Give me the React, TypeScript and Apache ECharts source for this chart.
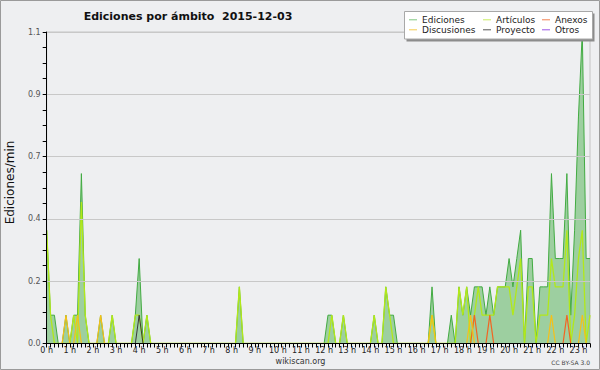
import React, { useEffect, useRef } from "react";
import * as echarts from "echarts";

const TITLE = "Ediciones por ámbito  2015-12-03";
const Y_NAME = "Ediciones/min";
const SITE = "wikiscan.org";
const LICENSE = "CC BY-SA 3.0";
const BIN_MINUTES = 10;
const X_MAX = 1410;
const Y_MAX = 1.1;
const Y_STEP = 0.22;
const HOUR_SUFFIX = " h";

// one row per hour, 10-minute bins (00:00 .. 23:30)
const ediciones = [
  0.4, 0.1, 0.1, 0, 0, 0.1,
  0, 0.1, 0.1, 0.6, 0.1, 0,
  0, 0, 0.1, 0, 0, 0.1,
  0, 0, 0, 0, 0, 0.1,
  0.3, 0, 0.1, 0, 0, 0,
  0, 0, 0, 0, 0, 0,
  0, 0, 0, 0, 0, 0,
  0, 0, 0, 0, 0, 0,
  0, 0, 0.2, 0, 0, 0,
  0, 0, 0, 0, 0, 0,
  0, 0, 0, 0, 0, 0,
  0, 0, 0, 0, 0, 0,
  0, 0.1, 0.1, 0, 0, 0.1,
  0, 0, 0, 0, 0, 0,
  0, 0.1, 0, 0, 0.2, 0.1,
  0.1, 0, 0, 0, 0, 0,
  0, 0, 0, 0, 0.2, 0,
  0, 0, 0, 0.1, 0, 0.2,
  0.1, 0.2, 0.1, 0.2, 0.2, 0.2,
  0.1, 0.2, 0.1, 0.2, 0.2, 0.2,
  0.3, 0.2, 0.3, 0.4, 0, 0.3,
  0.3, 0, 0.2, 0.2, 0.2, 0.6,
  0.3, 0.3, 0.3, 0.6, 0.1, 0.4,
  0.8, 1.1, 0.3, 0.3,
];

const articulos = [
  0.4, 0.1, 0, 0, 0, 0,
  0, 0.1, 0, 0.5, 0.1, 0,
  0, 0, 0, 0, 0, 0.1,
  0, 0, 0, 0, 0, 0.1,
  0.1, 0, 0.1, 0, 0, 0,
  0, 0, 0, 0, 0, 0,
  0, 0, 0, 0, 0, 0,
  0, 0, 0, 0, 0, 0,
  0, 0, 0.2, 0, 0, 0,
  0, 0, 0, 0, 0, 0,
  0, 0, 0, 0, 0, 0,
  0, 0, 0, 0, 0, 0,
  0, 0, 0.1, 0, 0, 0.1,
  0, 0, 0, 0, 0, 0,
  0, 0.1, 0, 0, 0.2, 0.1,
  0, 0, 0, 0, 0, 0,
  0, 0, 0, 0, 0.1, 0,
  0, 0, 0, 0, 0, 0.2,
  0.1, 0.2, 0, 0.1, 0.2, 0.1,
  0.1, 0.1, 0.1, 0.2, 0.2, 0.2,
  0.2, 0.1, 0.2, 0.3, 0, 0.2,
  0.2, 0, 0.1, 0.1, 0.1, 0.3,
  0.2, 0.2, 0.2, 0.4, 0, 0.1,
  0.3, 0.4, 0, 0.1,
];

const anexos = [
  0, 0, 0, 0, 0, 0,
  0, 0, 0, 0, 0, 0,
  0, 0, 0, 0, 0, 0,
  0, 0, 0, 0, 0, 0,
  0, 0, 0, 0, 0, 0,
  0, 0, 0, 0, 0, 0,
  0, 0, 0, 0, 0, 0,
  0, 0, 0, 0, 0, 0,
  0, 0, 0, 0, 0, 0,
  0, 0, 0, 0, 0, 0,
  0, 0, 0, 0, 0, 0,
  0, 0, 0, 0, 0, 0,
  0, 0, 0, 0, 0, 0,
  0, 0, 0, 0, 0, 0,
  0, 0, 0, 0, 0, 0,
  0, 0, 0, 0, 0, 0,
  0, 0, 0, 0, 0, 0,
  0, 0, 0, 0, 0, 0,
  0, 0, 0, 0.1, 0, 0,
  0, 0.1, 0, 0, 0, 0,
  0, 0, 0, 0, 0, 0,
  0, 0, 0, 0, 0, 0,
  0, 0, 0, 0.1, 0, 0,
  0, 0, 0, 0,
];

const discusiones = [
  0, 0, 0, 0, 0, 0.1,
  0, 0, 0.1, 0, 0, 0,
  0, 0, 0.1, 0, 0, 0,
  0, 0, 0, 0, 0, 0,
  0, 0, 0, 0, 0, 0,
  0, 0, 0, 0, 0, 0,
  0, 0, 0, 0, 0, 0,
  0, 0, 0, 0, 0, 0,
  0, 0, 0, 0, 0, 0,
  0, 0, 0, 0, 0, 0,
  0, 0, 0, 0, 0, 0,
  0, 0, 0, 0, 0, 0,
  0, 0, 0, 0, 0, 0,
  0, 0, 0, 0, 0, 0,
  0, 0, 0, 0, 0, 0,
  0, 0, 0, 0, 0, 0,
  0, 0, 0, 0, 0.1, 0,
  0, 0, 0, 0, 0, 0,
  0, 0, 0.1, 0, 0, 0,
  0, 0, 0, 0, 0, 0,
  0, 0, 0, 0, 0, 0,
  0, 0, 0, 0, 0, 0.1,
  0, 0, 0, 0, 0, 0,
  0, 0.1, 0, 0,
];

const proyecto = [
  0, 0, 0, 0, 0, 0,
  0, 0, 0, 0, 0, 0,
  0, 0, 0, 0, 0, 0,
  0, 0, 0, 0, 0, 0,
  0.1, 0, 0, 0, 0, 0,
  0, 0, 0, 0, 0, 0,
  0, 0, 0, 0, 0, 0,
  0, 0, 0, 0, 0, 0,
  0, 0, 0, 0, 0, 0,
  0, 0, 0, 0, 0, 0,
  0, 0, 0, 0, 0, 0,
  0, 0, 0, 0, 0, 0,
  0, 0, 0, 0, 0, 0,
  0, 0, 0, 0, 0, 0,
  0, 0, 0, 0, 0, 0,
  0, 0, 0, 0, 0, 0,
  0, 0, 0, 0, 0, 0,
  0, 0, 0, 0, 0, 0,
  0, 0, 0, 0, 0, 0,
  0, 0, 0, 0, 0, 0,
  0, 0, 0, 0, 0, 0,
  0, 0, 0, 0, 0, 0,
  0, 0, 0, 0, 0, 0,
  0, 0, 0, 0,
];

const otros = [
  0, 0, 0, 0, 0, 0,
  0, 0, 0, 0, 0, 0,
  0, 0, 0, 0, 0, 0,
  0, 0, 0, 0, 0, 0,
  0, 0, 0, 0, 0, 0,
  0, 0, 0, 0, 0, 0,
  0, 0, 0, 0, 0, 0,
  0, 0, 0, 0, 0, 0,
  0, 0, 0, 0, 0, 0,
  0, 0, 0, 0, 0, 0,
  0, 0, 0, 0, 0, 0,
  0, 0, 0, 0, 0, 0,
  0, 0, 0, 0, 0, 0,
  0, 0, 0, 0, 0, 0,
  0, 0, 0, 0, 0, 0,
  0, 0, 0, 0, 0, 0,
  0, 0, 0, 0, 0, 0,
  0, 0, 0, 0, 0, 0,
  0, 0, 0, 0, 0, 0,
  0, 0, 0, 0, 0, 0,
  0, 0, 0, 0, 0, 0,
  0, 0, 0, 0, 0, 0,
  0, 0, 0, 0, 0, 0,
  0, 0, 0, 0,
];

const SERIES_NAMES = ["Ediciones", "Artículos", "Anexos", "Discusiones", "Proyecto", "Otros"];
const LEGEND_COLUMNS = [
  ["Ediciones", "Discusiones"],
  ["Artículos", "Proyecto"],
  ["Anexos", "Otros"],
];

export default function App() {
  const ref = useRef<HTMLDivElement>(null);

  useEffect(() => {
    if (!ref.current) return;
    const chart = echarts.init(ref.current, null, { renderer: "svg" });
    const font = "'DejaVu Sans', sans-serif";
    const toPairs = (arr: number[]) => arr.map((v, i) => [i * BIN_MINUTES, v]);

    const defs = [
      { data: ediciones, color: "#42ab42", legend: "#80c880", width: 1, area: true },
      { data: articulos, color: "#b2e81a", legend: "#c8ec60", width: 1.3, area: false },
      { data: anexos, color: "#f26522", legend: "#f28050", width: 1.2, area: false },
      { data: discusiones, color: "#f5c01a", legend: "#f5cc50", width: 1.2, area: false },
      { data: proyecto, color: "#3a3a3a", legend: "#555555", width: 1, area: false },
      { data: otros, color: "#9b4de6", legend: "#9b55e6", width: 1, area: false },
    ];

    const series = defs.map((d, i) => ({
      name: SERIES_NAMES[i],
      type: "line",
      data: toPairs(d.data),
      symbol: "none",
      showSymbol: false,
      z: 2 + i,
      color: d.color,
      itemStyle: { color: d.legend },
      lineStyle: { color: d.color, width: d.width },
      areaStyle: d.area ? { color: "#4caf50", opacity: 0.5 } : undefined,
      emphasis: { disabled: true },
    }));

    const legendLefts = [409, 483, 542];
    const legend = LEGEND_COLUMNS.map((col, i) => ({
      orient: "vertical",
      left: legendLefts[i],
      top: 14.8,
      icon: "rect",
      itemWidth: 8,
      itemHeight: 1,
      itemGap: 0,
      padding: 0,
      z: 20,
      selectedMode: false,
      data: col,
      textStyle: { fontSize: 9, color: "#222", fontFamily: font, lineHeight: 10, padding: 0 },
    }));

    chart.setOption({
      animation: false,
      backgroundColor: "#eeeff1",
      textStyle: { fontFamily: font },
      grid: {
        left: 46.7,
        right: 10,
        top: 32,
        bottom: 26.5,
        show: true,
        borderColor: "#c4c4c4",
        borderWidth: 1,
        backgroundColor: "transparent",
      },
      xAxis: {
        type: "value",
        min: 0,
        max: X_MAX,
        interval: BIN_MINUTES,
        z: 10,
        axisLine: { show: true, onZero: false, lineStyle: { color: "#000", width: 1 } },
        axisTick: { show: true, length: 4, lineStyle: { color: "#000", width: 1 } },
        axisLabel: {
          formatter: (v: number) => (v % 60 === 0 ? `${v / 60}${HOUR_SUFFIX}` : ""),
          fontSize: 8,
          color: "#222",
          margin: 3,
          fontFamily: font,
        },
        splitLine: { show: false },
      },
      yAxis: {
        type: "value",
        min: 0,
        max: Y_MAX,
        interval: Y_STEP,
        z: 10,
        axisLine: { show: true, lineStyle: { color: "#000", width: 1 } },
        axisTick: { show: true, length: 4, lineStyle: { color: "#000", width: 1 } },
        minorTick: { show: true, splitNumber: 4, length: 4, lineStyle: { color: "#000", width: 1 } },
        axisLabel: {
          formatter: (v: number) => v.toFixed(1),
          fontSize: 8,
          color: "#555",
          margin: 6,
          fontFamily: font,
        },
        splitLine: { show: true, lineStyle: { color: "#c8c8c8", width: 1 } },
        minorSplitLine: { show: false },
      },
      legend,
      graphic: [
        {
          type: "rect",
          z: 15,
          shape: { x: 406.5, y: 13.5, width: 188, height: 28 },
          style: { fill: "#8c8c8c" },
        },
        {
          type: "rect",
          z: 16,
          shape: { x: 404.5, y: 11.5, width: 188, height: 27.5 },
          style: { fill: "#ffffff", stroke: "#a8a8a8", lineWidth: 1 },
        },
        {
          type: "text",
          z: 20,
          x: 188,
          y: 16.5,
          style: {
            text: TITLE,
            font: "bold 11px 'DejaVu Sans', sans-serif",
            fill: "#111",
            align: "center",
            verticalAlign: "middle",
          },
        },
        {
          type: "text",
          z: 20,
          x: 10,
          y: 182.5,
          rotation: Math.PI / 2,
          style: {
            text: Y_NAME,
            font: "12px 'DejaVu Sans', sans-serif",
            fill: "#111",
            align: "center",
            verticalAlign: "middle",
          },
        },
        {
          type: "text",
          z: 20,
          x: 300.5,
          y: 361,
          style: {
            text: SITE,
            font: "8px 'DejaVu Sans', sans-serif",
            fill: "#333",
            align: "center",
            verticalAlign: "middle",
          },
        },
        {
          type: "text",
          z: 20,
          x: 590,
          y: 362.3,
          style: {
            text: LICENSE,
            font: "6px 'DejaVu Sans', sans-serif",
            fill: "#444",
            align: "right",
            verticalAlign: "middle",
          },
        },
        {
          type: "rect",
          z: 30,
          shape: { x: 0.5, y: 0.5, width: 599, height: 369 },
          style: { fill: "none", stroke: "#9a9a9a", lineWidth: 1 },
        },
      ],
      series,
    });

    return () => {
      chart.dispose();
    };
  }, []);

  return (
    <div
      ref={ref}
      style={{ position: "absolute", left: 0, top: 0, width: 600, height: 370 }}
    />
  );
}
